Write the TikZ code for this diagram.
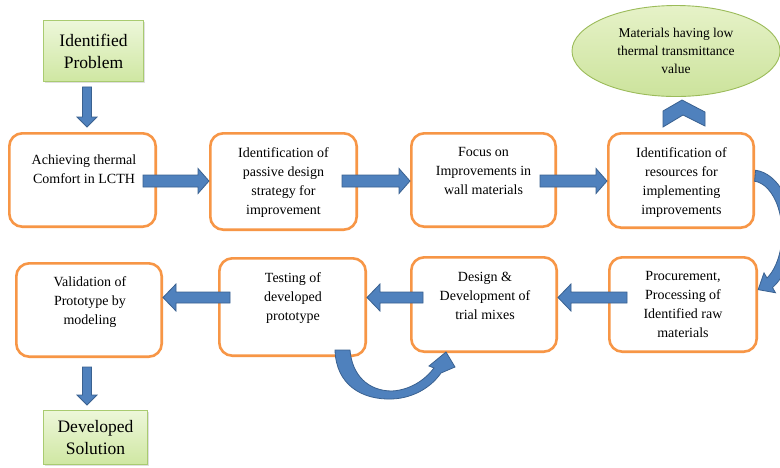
\documentclass[tikz,border=0pt]{standalone}
\usepackage{fontspec}
\setmainfont{Liberation Serif}
\usetikzlibrary{calc,shapes.geometric,shadows}
\definecolor{boxorange}{HTML}{F79646}
\definecolor{arrowblue}{HTML}{4F81BD}
\definecolor{arrowdark}{HTML}{3A6190}
\definecolor{greentop}{HTML}{EDF7DA}
\definecolor{greenbot}{HTML}{CFE7A2}
\definecolor{greenline}{HTML}{A9CB70}
\definecolor{elltop}{HTML}{E6F2C8}
\definecolor{ellbot}{HTML}{CCE39C}
\definecolor{ellline}{HTML}{9BBB59}
\tikzset{
  procbox/.style={rectangle, rounded corners=13pt, draw=boxorange, line width=2.6pt, fill=white},
  boxtext/.style={align=center, inner sep=0pt, anchor=north, font=\fontsize{14}{19}\selectfont},
  greenbox/.style={rectangle, draw=greenline, line width=0.9pt, top color=greentop, bottom color=greenbot,
    align=center, inner sep=0pt, font=\fontsize{17.5}{22}\selectfont,
    drop shadow={opacity=0.25, shadow xshift=1.5pt, shadow yshift=-1.5pt}},
  blockarr/.style={fill=arrowblue, draw=arrowdark, line width=0.8pt, line join=miter},
}
% block arrow: #1 from, #2 to, #3 shaft half width, #4 head half width, #5 head length
\newcommand\blockarrow[5]{%
  \path[blockarr] let \p1=(#1), \p2=(#2),
    \n1={atan2(\y2-\y1,\x2-\x1)}, \n2={veclen(\x2-\x1,\y2-\y1)} in
    [shift={(\p1)}, rotate=\n1]
    (0pt,-#3pt) -- ({\n2-#5pt},-#3pt) -- ({\n2-#5pt},-#4pt) -- ({\n2},0pt)
    -- ({\n2-#5pt},#4pt) -- ({\n2-#5pt},#3pt) -- (0pt,#3pt) -- cycle;}
\begin{document}
\begin{tikzpicture}[x=1pt,y=-1pt]
\path[use as bounding box] (0,0) rectangle (780,467);
\fill[white] (0,0) rectangle (780,467);
\clip (0,0) rectangle (780,467);

% green start / end boxes
\node[greenbox, minimum width=100pt, minimum height=61pt] (gb1) at (93.5,51) {Identified\\Problem};
\node[greenbox, minimum width=104pt, minimum height=54pt] (gb2) at (95.5,437.5) {Developed\\Solution};

% ellipse
\node[ellipse, draw=ellline, line width=0.9pt, top color=elltop, bottom color=ellbot,
  minimum width=208pt, minimum height=91pt, inner sep=0pt, align=center,
  font=\fontsize{13.5}{18}\selectfont] (mat) at (676,51) {Materials having low\\thermal transmittance\\value};

% row 1 boxes
\node[procbox, minimum width=146.4pt, minimum height=93.4pt] (b1) at (82.5,180) {};
\node[procbox, minimum width=146.4pt, minimum height=96.4pt] (b2) at (283.5,181.5) {};
\node[procbox, minimum width=144.4pt, minimum height=93.4pt] (b3) at (483.5,180) {};
\node[procbox, minimum width=145.4pt, minimum height=94.4pt] (b4) at (681,180.5) {};
% row 2 boxes
\node[procbox, minimum width=145.4pt, minimum height=93.4pt] (v) at (89,310) {};
\node[procbox, minimum width=146.4pt, minimum height=97.4pt] (t) at (292.5,307) {};
\node[procbox, minimum width=145.4pt, minimum height=94.4pt] (d) at (484,304.5) {};
\node[procbox, minimum width=147.4pt, minimum height=94.4pt] (p) at (683,304.5) {};

% texts
\node[boxtext] (t1) at ($(b1.north)+(1.5,22.5)$) {Achieving thermal\\Comfort in LCTH};
\node[boxtext] (t2) at ($(b2.north)+(0,15.5)$) {Identification of\\passive design\\strategy for\\improvement};
\node[boxtext] (t3) at ($(b3.north)+(0,15.5)$) {Focus on\\Improvements in\\wall materials};
\node[boxtext] (t4) at ($(b4.north)+(0.5,15.5)$) {Identification of\\resources for\\implementing\\improvements};
\node[boxtext] (tv) at ($(v.north)+(1,14.5)$) {Validation of\\Prototype by\\modeling};
\node[boxtext] (tt) at ($(t.north)+(0.5,15.5)$) {Testing of\\developed\\prototype};
\node[boxtext] (td) at ($(d.north)+(1,15.5)$) {Design \&\\Development of\\trial mixes};
\node[boxtext] (tp) at ($(p.north)+(0,15.5)$) {Procurement,\\Processing of\\Identified raw\\materials};

% reference rows for straight arrows
\coordinate (r1) at (0,181);
\coordinate (r2) at (0,297.5);

% vertical arrows
\coordinate (d1s) at ($(gb1.south)+(-6.5,5)$);
\coordinate (d1e) at ($(b1.north)+(4.5,-5)$);
\blockarrow{d1s}{d1e}{4.5}{10}{10}
\coordinate (d2s) at ($(v.south)+(-2,9)$);
\coordinate (d2e) at ($(gb2.north)+(-8.5,-5)$);
\blockarrow{d2s}{d2e}{4.5}{10}{10}

% row 1 arrows
\coordinate (a1s) at ($(b1.east |- r1)+(-14,0)$);
\blockarrow{a1s}{b2.west |- r1}{6}{12.5}{11}
\coordinate (a2s) at ($(b2.east |- r1)+(-16,0)$);
\blockarrow{a2s}{b3.west |- r1}{6}{12.5}{11}
\coordinate (a3s) at ($(b3.east |- r1)+(-17,0)$);
\blockarrow{a3s}{b4.west |- r1}{6}{12.5}{11}

% row 2 arrows
\coordinate (a4s) at ($(p.west |- r2)+(19,0)$);
\blockarrow{a4s}{d.east |- r2}{5.5}{13.5}{13}
\coordinate (a5s) at ($(d.west |- r2)+(13,0)$);
\blockarrow{a5s}{t.east |- r2}{5.5}{13.5}{13}
\coordinate (a6s) at ($(t.west |- r2)+(12,0)$);
\blockarrow{a6s}{v.east |- r2}{5.5}{13.5}{13}

% chevron up to the ellipse
\draw[blockarr, shift={(b4.north)}] (-18,-5) -- (-18,-21) -- (1,-32) -- (24,-20) -- (24,-6) -- (2,-17) -- cycle;

% curved arrow from b4 down to p (right side)
\coordinate (cc) at ($(b4.east)+(-3,52.5)$);
\path[blockarr] ($(cc)+(-85:41 and 63)$)
  arc[start angle=-85, end angle=60, x radius=41, y radius=63]
  -- ($(cc)+(60:47 and 69)$) -- ($(cc)+(80:35.5 and 57.5)$) -- ($(cc)+(60:24 and 46)$)
  -- ($(cc)+(60:30 and 52)$)
  arc[start angle=60, end angle=-85, x radius=30, y radius=52] -- cycle;

% U-shaped arrow from t to d
\path[blockarr, shift={(t.south)}] (42.5,-7)
  .. controls (43.5,28) and (69.5,43) .. (99.5,42)
  .. controls (122.5,41) and (139.5,29) .. (148.5,16)
  -- (162.5,10) -- (153.5,-5) -- (136.5,9) -- (141.5,11)
  .. controls (132.5,23) and (117.5,33) .. (99.5,34)
  .. controls (75.5,34) and (59.5,18) .. (57.5,-7) -- cycle;
\end{tikzpicture}
\end{document}
